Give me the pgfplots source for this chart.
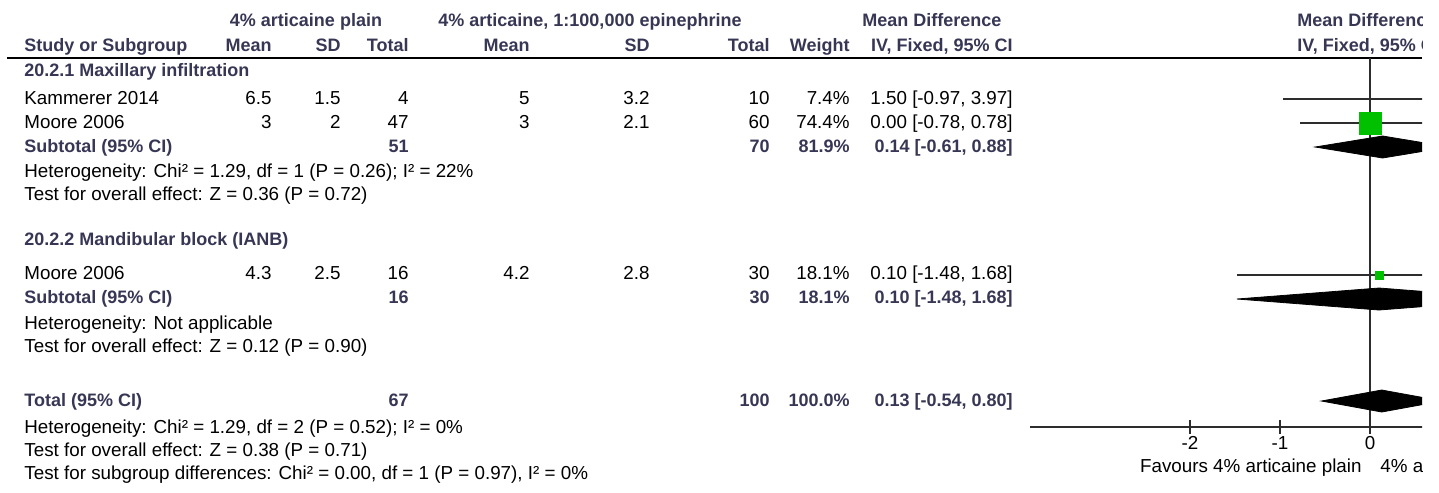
\documentclass[border=0pt]{standalone}
\usepackage{pgfplots}
\pgfplotsset{compat=1.18}
\usepackage{fontspec}
\setmainfont{Liberation Sans}
\definecolor{hdr}{RGB}{55,55,85}
\definecolor{sqg}{RGB}{0,192,0}
\definecolor{ln}{RGB}{45,45,45}
\newcommand\rf{\fontsize{9.4bp}{11bp}\selectfont}
\newcommand\bh{\fontsize{9bp}{11bp}\selectfont\bfseries\color{hdr}}
\newcommand\TL[3]{\node[anchor=base west,inner sep=0,font=\rf] at (#1,#2) {#3};}
\newcommand\TR[3]{\node[anchor=base east,inner sep=0,font=\rf] at (#1,#2) {#3};}
\newcommand\BL[3]{\node[anchor=base west,inner sep=0,font=\bh] at (#1,#2) {#3};}
\newcommand\BR[3]{\node[anchor=base east,inner sep=0,font=\bh] at (#1,#2) {#3};}
\newcommand\BC[3]{\node[anchor=base,inner sep=0,font=\bh] at (#1,#2) {#3};}
\begin{document}
\begin{tikzpicture}
\begin{scope}[x=0.5bp,y=-0.5bp]
\path[use as bounding box] (0,0) rectangle (1439,493);
% header row 1
\BC{306}{27}{4\% articaine plain}
\BC{590}{27}{4\% articaine, 1:100,000 epinephrine}
\BC{932}{27}{Mean Difference}
% header row 2
\BL{24}{52}{Study or Subgroup}
\BR{272}{52}{Mean}\BR{341}{52}{SD}\BR{409}{52}{Total}
\BR{530}{52}{Mean}\BR{650}{52}{SD}\BR{770}{52}{Total}
\BR{850}{52}{Weight}\BR{1013}{52}{IV, Fixed, 95\% CI}
\draw[line width=1bp] (7,58) -- (1422,58);
% group 1
\BL{24}{77}{20.2.1 Maxillary infiltration}
\TL{24}{105}{Kammerer 2014}
\TR{272}{105}{6.5}\TR{341}{105}{1.5}\TR{409}{105}{4}
\TR{530}{105}{5}\TR{650}{105}{3.2}\TR{770}{105}{10}
\TR{850}{105}{7.4\%}\TR{1013}{105}{1.50 [-0.97, 3.97]}
\TL{24}{129}{Moore 2006}
\TR{272}{129}{3}\TR{341}{129}{2}\TR{409}{129}{47}
\TR{530}{129}{3}\TR{650}{129}{2.1}\TR{770}{129}{60}
\TR{850}{129}{74.4\%}\TR{1013}{129}{0.00 [-0.78, 0.78]}
\BL{24}{153}{Subtotal (95\% CI)}
\BR{409}{153}{51}\BR{770}{153}{70}\BR{850}{153}{81.9\%}\BR{1013}{153}{0.14 [-0.61, 0.88]}
\TL{24}{178}{Heterogeneity: Chi² = 1.29, df = 1 (P = 0.26); I² = 22\%}
\TL{24}{201}{Test for overall effect: Z = 0.36 (P = 0.72)}
% group 2
\BL{24}{246}{20.2.2 Mandibular block (IANB)}
\TL{24}{280}{Moore 2006}
\TR{272}{280}{4.3}\TR{341}{280}{2.5}\TR{409}{280}{16}
\TR{530}{280}{4.2}\TR{650}{280}{2.8}\TR{770}{280}{30}
\TR{850}{280}{18.1\%}\TR{1013}{280}{0.10 [-1.48, 1.68]}
\BL{24}{304}{Subtotal (95\% CI)}
\BR{409}{304}{16}\BR{770}{304}{30}\BR{850}{304}{18.1\%}\BR{1013}{304}{0.10 [-1.48, 1.68]}
\TL{24}{330}{Heterogeneity: Not applicable}
\TL{24}{353}{Test for overall effect: Z = 0.12 (P = 0.90)}
% total
\BL{24}{407}{Total (95\% CI)}
\BR{409}{407}{67}\BR{770}{407}{100}\BR{850}{407}{100.0\%}\BR{1013}{407}{0.13 [-0.54, 0.80]}
\TL{24}{433}{Heterogeneity: Chi² = 1.29, df = 2 (P = 0.52); I² = 0\%}
\TL{24}{456}{Test for overall effect: Z = 0.38 (P = 0.71)}
\TL{24}{479}{Test for subgroup differences: Chi² = 0.00, df = 1 (P = 0.97), I² = 0\%}
% texts of the plot panel, cut at its right edge
\begin{scope}
\clip (1030,0) rectangle (1422,493);
\BL{1297}{27}{Mean Difference}
\BL{1297}{52}{IV, Fixed, 95\% CI}
\TR{1362}{472}{Favours 4\% articaine plain}
\TL{1380}{472}{4\% articaine, 1:100,000 epinephrine}
\end{scope}
\end{scope}
\begin{axis}[at={(515bp,-246.5bp)}, anchor=south west,
  width=196bp, height=246.5bp, scale only axis,
  xmin=-3.7778, xmax=0.5778, ymin=0, ymax=493, y dir=reverse,
  hide axis, clip=true, clip marker paths=true]
% reference line and x axis
\addplot[ln, line width=0.65bp] coordinates {(0,58) (0,434)};
\addplot[ln, line width=0.65bp] coordinates {(-3.9,427) (0.7,427)};
\addplot[ln, line width=0.65bp] coordinates {(-2,420) (-2,434)};
\addplot[ln, line width=0.65bp] coordinates {(-1,420) (-1,434)};
\node[font=\rf, anchor=base, inner sep=0] at (axis cs:-2,449) {-2};
\node[font=\rf, anchor=base, inner sep=0] at (axis cs:-1,449) {-1};
\node[font=\rf, anchor=base, inner sep=0] at (axis cs:0,449) {0};
% confidence intervals
\addplot[ln, line width=0.65bp] coordinates {(-0.97,99) (3.97,99)};
\addplot[ln, line width=0.65bp] coordinates {(-0.78,123) (0.78,123)};
\addplot[ln, line width=0.65bp] coordinates {(-1.48,275) (1.68,275)};
% study squares
\addplot[only marks, mark=square*, color=sqg, mark size=1.8bp] coordinates {(1.50,99)};
\addplot[only marks, mark=square*, color=sqg, mark size=5.5bp] coordinates {(0.00,123)};
\addplot[only marks, mark=square*, color=sqg, mark size=2bp] coordinates {(0.10,275)};
% pooled diamonds
\addplot[fill=black, draw=black] coordinates {(-0.61,147) (0.14,136) (0.88,147) (0.14,158)} -- cycle;
\addplot[fill=black, draw=black] coordinates {(-1.48,299) (0.10,288) (1.68,299) (0.10,310)} -- cycle;
\addplot[fill=black, draw=black] coordinates {(-0.54,401) (0.13,390) (0.80,401) (0.13,412)} -- cycle;
\end{axis}
\end{tikzpicture}
\end{document}
